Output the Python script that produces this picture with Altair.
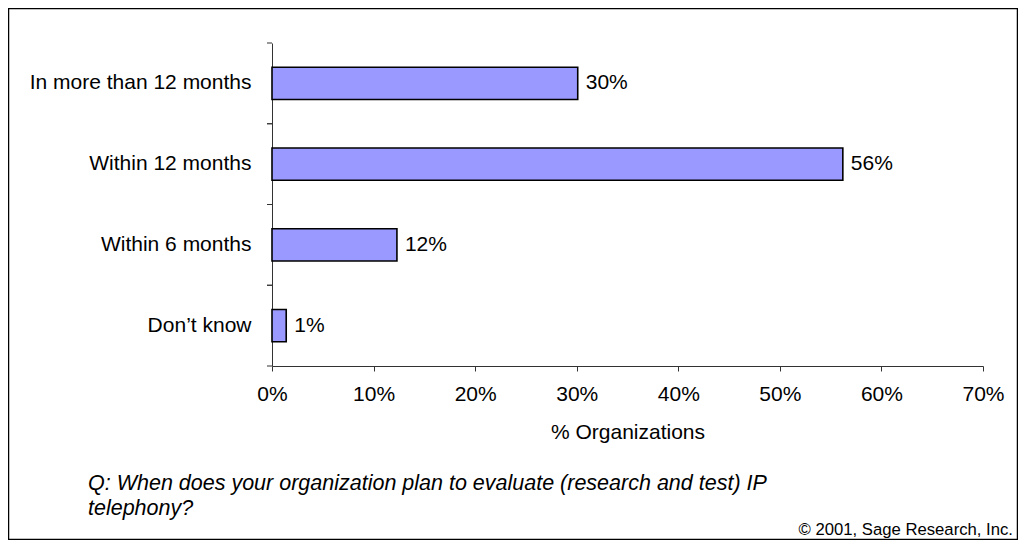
import altair as alt
import pandas as pd

categories = ["In more than 12 months", "Within 12 months", "Within 6 months", "Don\u2019t know"]
values = [30.1, 56.2, 12.3, 1.4]
value_labels = ["30%", "56%", "12%", "1%"]
x_ticks = [0, 10, 20, 30, 40, 50, 60, 70]
question_lines = ["Q: When does your organization plan to evaluate (research and test) IP", "telephony?"]
copyright_text = "\u00a9 2001, Sage Research, Inc."

FONT = "Liberation Sans"
W, H = 711, 323

df = pd.DataFrame({"category": categories, "value": values, "label": value_labels})

band_scale = alt.Scale(paddingInner=0.6, paddingOuter=0.3)
edge_scale = alt.Scale(paddingInner=0, paddingOuter=0)

y_enc = alt.Y(
    "category:N",
    sort=categories,
    scale=band_scale,
    axis=alt.Axis(
        title=None,
        ticks=False,
        tickSize=0,
        domainColor="#333333",
        labelPadding=21,
        labelFontSize=21,
        labelFont=FONT,
        labelColor="#000000",
        labelLimit=400,
    ),
)

x_enc = alt.X(
    "value:Q",
    scale=alt.Scale(domain=[0, 70], nice=False, zero=True),
    axis=alt.Axis(
        values=x_ticks,
        labelExpr="datum.value + '%'",
        labelFlush=False,
        labelOverlap=False,
        title="% Organizations",
        titleFontSize=21,
        titleFont=FONT,
        titleFontWeight="normal",
        titleColor="#000000",
        titlePadding=17,
        tickSize=5,
        tickColor="#333333",
        domainColor="#333333",
        labelPadding=12,
        labelFontSize=21,
        labelFont=FONT,
        labelColor="#000000",
        grid=False,
    ),
)

bars = alt.Chart(df).mark_bar(
    color="#9999FF", stroke="#000000", strokeWidth=1.6
).encode(x=x_enc, y=y_enc)

texts = alt.Chart(df).mark_text(
    align="left", baseline="middle", dx=8, fontSize=21, font=FONT, color="#000000"
).encode(
    x=alt.X("value:Q", scale=alt.Scale(domain=[0, 70], nice=False)),
    y=alt.Y("category:N", sort=categories, scale=band_scale, axis=None),
    text="label:N",
)

ticks_top = alt.Chart(df).mark_rule(color="#333333", strokeWidth=1).encode(
    y=alt.Y("category:N", sort=categories, scale=edge_scale, bandPosition=0, axis=None),
    x=alt.value(-5),
    x2=alt.value(0),
)
ticks_bottom = alt.Chart(df).mark_rule(color="#333333", strokeWidth=1).encode(
    y=alt.Y("category:N", sort=categories, scale=edge_scale, bandPosition=1, axis=None),
    x=alt.value(-5),
    x2=alt.value(0),
)

frame_df = pd.DataFrame({"k": [1]})
frame = alt.Chart(frame_df).mark_rect(
    filled=False, stroke="#000000", strokeWidth=1.5
).encode(
    x=alt.value(-263.5), x2=alt.value(745.5), y=alt.value(-34.5), y2=alt.value(496.5)
)

q1 = alt.Chart(pd.DataFrame({"t": [question_lines[0]]})).mark_text(
    align="left", baseline="alphabetic", fontSize=21.5, fontStyle="italic", font=FONT, color="#000000"
).encode(x=alt.value(-184), y=alt.value(447), text="t:N")

q2 = alt.Chart(pd.DataFrame({"t": [question_lines[1]]})).mark_text(
    align="left", baseline="alphabetic", fontSize=21.5, fontStyle="italic", font=FONT, color="#000000"
).encode(x=alt.value(-184), y=alt.value(472), text="t:N")

cp = alt.Chart(pd.DataFrame({"t": [copyright_text]})).mark_text(
    align="right", baseline="alphabetic", fontSize=16.7, font=FONT, color="#000000"
).encode(x=alt.value(741), y=alt.value(492), text="t:N")

chart = alt.layer(bars, texts, ticks_top, ticks_bottom, frame, q1, q2, cp).resolve_scale(
    y="independent"
).properties(
    width=W,
    height=H,
    autosize=alt.AutoSizeParams(type="none"),
    padding={"left": 264, "top": 35, "right": 35, "bottom": 174},
    background="#ffffff",
).configure_view(stroke=None)

chart.save("out.html", embed_options={"renderer": "svg", "actions": False})
